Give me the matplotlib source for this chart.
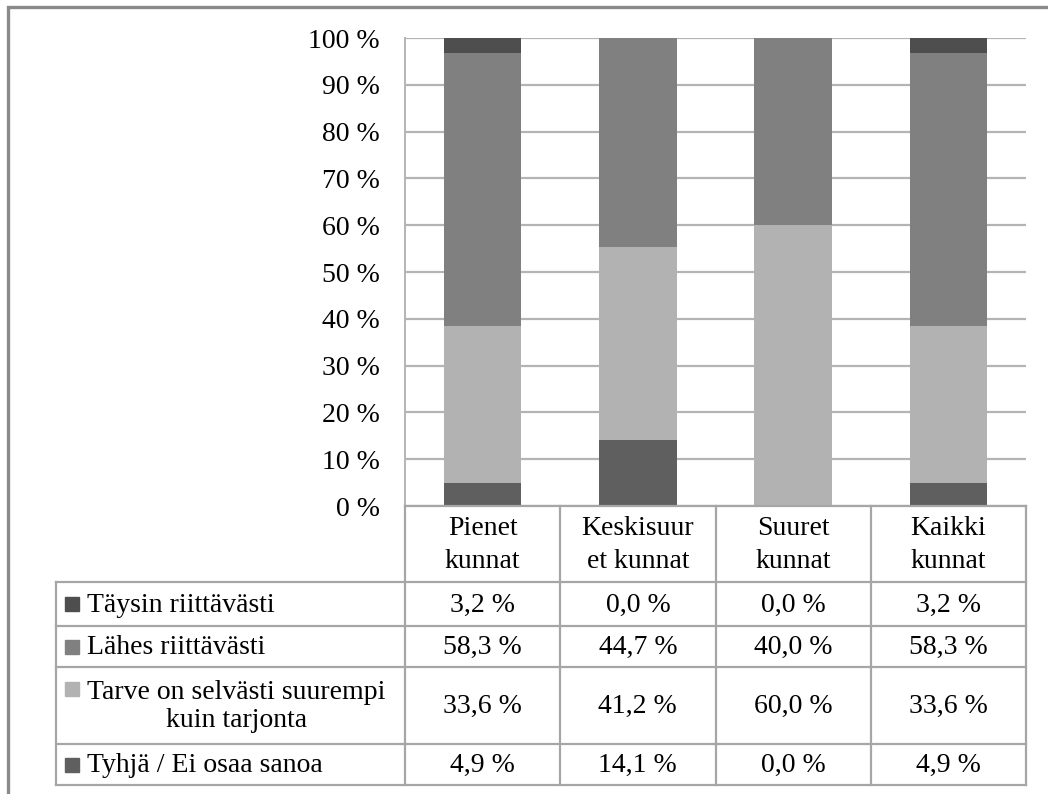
import matplotlib.pyplot as plt
from matplotlib.patches import Rectangle
from matplotlib.lines import Line2D

# --- data -------------------------------------------------------------
categories = ["Pienet\nkunnat", "Keskisuur\net kunnat", "Suuret\nkunnat", "Kaikki\nkunnat"]
series_names = ["Täysin riittävästi", "Lähes riittävästi",
                "Tarve on selvästi suurempi\nkuin tarjonta", "Tyhjä / Ei osaa sanoa"]
taysin = [3.2, 0.0, 0.0, 3.2]
lahes = [58.3, 44.7, 40.0, 58.3]
tarve = [33.6, 41.2, 60.0, 33.6]
tyhja = [4.9, 14.1, 0.0, 4.9]
colors = ["#4e4e4e", "#808080", "#b2b2b2", "#5f5f5f"]
yticks = list(range(0, 101, 10))

plt.rcParams["font.family"] = ["Liberation Serif", "DejaVu Serif"]
W, H = 1048, 794
fig = plt.figure(figsize=(W / 100, H / 100), dpi=100)


def fx(px):
    return px / W


def fy(py):
    return 1 - py / H


# plot area in pixels
left, right, top, bottom = 405, 1026, 38, 506
ax = fig.add_axes([fx(left), fy(bottom), fx(right - left), (bottom - top) / H])

x = range(len(categories))
stack_bottom = [0.0] * len(categories)
# stacking from bottom: Tyhjä, Tarve, Lähes, Täysin
for vals, col in [(tyhja, colors[3]), (tarve, colors[2]), (lahes, colors[1]), (taysin, colors[0])]:
    ax.bar(x, vals, width=0.5, bottom=stack_bottom, color=col, zorder=3)
    stack_bottom = [b + v for b, v in zip(stack_bottom, vals)]

fs = 20
ax.set_xlim(-0.5, len(categories) - 0.5)
ax.set_ylim(0, 100)
ax.set_yticks(yticks)
ax.set_yticklabels([f"{t} %" for t in yticks], fontsize=fs)
ax.tick_params(axis="y", length=0, pad=18)
ax.set_xticks([])
ax.yaxis.grid(True, color="#b4b4b4", linewidth=1.6, zorder=0)
for s in ["top", "right", "bottom"]:
    ax.spines[s].set_visible(False)
ax.spines["left"].set_color("#b4b4b4")
ax.spines["left"].set_linewidth(1.4)

# --- data table below the plot ---------------------------------------
col_edges = [left + i * (right - left) / len(categories) for i in range(len(categories) + 1)]
row_edges = [506, 582, 626, 667, 744, 785]
lab_left = 56
lc = "#a6a6a6"


def hline(py, x0, x1):
    fig.add_artist(Line2D([fx(x0), fx(x1)], [fy(py), fy(py)], color=lc, lw=1.6))


def vline(px, y0, y1):
    fig.add_artist(Line2D([fx(px), fx(px)], [fy(y0), fy(y1)], color=lc, lw=1.6))


hline(row_edges[0], left, right)
for r in row_edges[1:]:
    hline(r, lab_left, right)
for c in col_edges:
    vline(c, row_edges[0], row_edges[-1])
vline(lab_left, row_edges[1], row_edges[-1])

for i, cat in enumerate(categories):
    cx = (col_edges[i] + col_edges[i + 1]) / 2
    cy = (row_edges[0] + row_edges[1]) / 2
    fig.text(fx(cx), fy(cy + 1), cat, ha="center", va="center", fontsize=fs, linespacing=1.38)

table_vals = [taysin, lahes, tarve, tyhja]
for j, (name, vals, col) in enumerate(zip(series_names, table_vals, colors)):
    cy = (row_edges[j + 1] + row_edges[j + 2]) / 2
    sq_y = cy if "\n" not in name else cy - 17
    fig.add_artist(Rectangle((fx(65), fy(sq_y + 7)), 14 / W, 14 / H,
                             color=col, transform=fig.transFigure))
    fig.text(fx(87), fy(cy + 1), name, ha="left", va="center", fontsize=fs,
             multialignment="center", linespacing=1.18)
    for i, v in enumerate(vals):
        cx = (col_edges[i] + col_edges[i + 1]) / 2
        fig.text(fx(cx), fy(cy + 1), f"{v:.1f} %".replace(".", ","),
                 ha="center", va="center", fontsize=fs)

# outer frame (only its left and top edges fall inside the image)
fig.add_artist(Rectangle((fx(8), fy(H + 20)), (W + 20) / W, (H + 20 - 7) / H, fill=False,
                         edgecolor="#8a8a8a", lw=2.4, transform=fig.transFigure))

fig.savefig("out.png", dpi=100)
